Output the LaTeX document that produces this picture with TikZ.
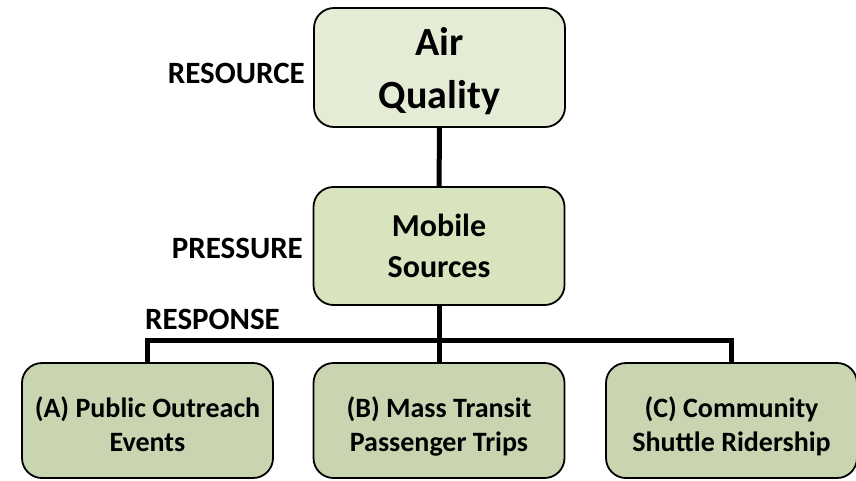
\documentclass[tikz,border=0pt]{standalone}
\usepackage{fontspec}
\setmainfont{Carlito}
\usetikzlibrary{positioning}

\definecolor{resfill}{RGB}{229,236,214}
\definecolor{presfill}{RGB}{215,228,189}
\definecolor{respfill}{RGB}{201,213,176}

\tikzset{
  box/.style={draw=black,line width=1.8pt,rounded corners=20pt,align=center,
    minimum width=251pt,text depth=0pt,font=\bfseries},
  tag/.style={font=\bfseries\fontsize{31}{36}\selectfont,inner sep=0pt},
  link/.style={line width=5pt}
}

\begin{document}
\begin{tikzpicture}[x=1pt,y=-1pt]

\useasboundingbox (0,0) rectangle (856,480);

\node[box,fill=resfill,minimum height=119pt,text height=81pt,font=\bfseries\fontsize{40}{53}\selectfont] (air) at (439.5,67.5) {Air\\Quality};
\node[box,fill=presfill,minimum height=118pt,text height=62pt,font=\bfseries\fontsize{32}{41}\selectfont] (mob) at (439,246) {Mobile\\Sources};
\node[box,fill=respfill,minimum height=115pt,text height=61pt,font=\bfseries\fontsize{28}{34}\selectfont] (pa) at (147.5,420.5) {(A) Public Outreach\\Events};
\node[box,fill=respfill,minimum height=115pt,text height=61pt,font=\bfseries\fontsize{28}{34}\selectfont] (pb) at (439,420.5) {(B) Mass Transit\\Passenger Trips};
\node[box,fill=respfill,minimum height=115pt,text height=61pt,font=\bfseries\fontsize{28}{34}\selectfont] (pc) at (731.5,420.5) {(C) Community\\Shuttle Ridership};

\node[tag,anchor=base east] (lres) at (305,83) {RESOURCE};
\node[tag,anchor=base east] (lpre) at (303,258) {PRESSURE};
\node[tag,anchor=base west] (lrsp) at (145,329) {RESPONSE};

\coordinate (fork) at (mob.south |- 0,340);

\draw[link] (air) -- (mob);
\draw[link] (mob) -- (pb);
\draw[link] (pa.north) |- (fork) -| (pc.north);

\end{tikzpicture}
\end{document}
